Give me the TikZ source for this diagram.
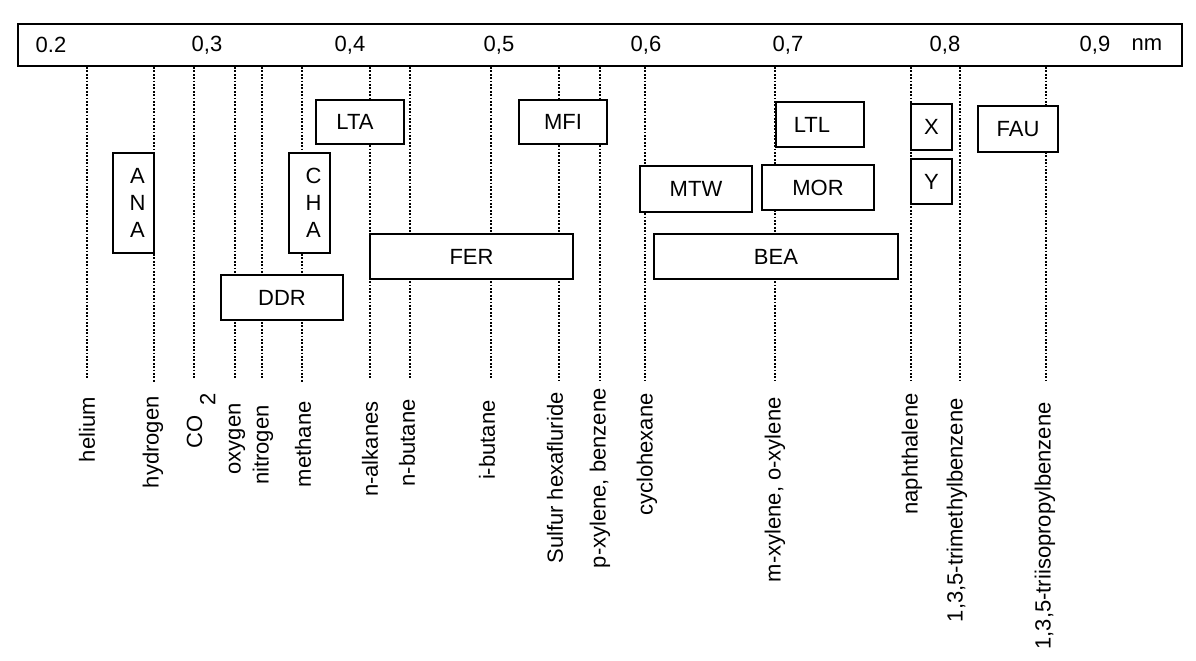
\documentclass[tikz,border=0pt]{standalone}
\usepackage{fontspec}
\setmainfont{Liberation Sans}
\begin{document}
\begin{tikzpicture}[x=0.5pt,y=-0.5pt,
  every node/.style={font=\fontsize{11pt}{13.5pt}\selectfont, inner sep=0pt},
  zbox/.style={draw, fill=white, line width=1pt, align=center},
  guide/.style={line width=1.1pt, dash pattern=on 0.9pt off 0.8pt},
  molname/.style={rotate=90, anchor=east},
  tick/.style={anchor=center}]
\useasboundingbox (0,0) rectangle (1196,660);
% scale bar
\node[draw, line width=1pt, minimum width=582pt, minimum height=21pt] (bar) at (600,45) {};
\node[tick] (t2) at (51,45) {0.2};
\node[tick] (t3) at (207,45) {0,3};
\node[tick] (t4) at (350,45) {0,4};
\node[tick] (t5) at (499,45) {0,5};
\node[tick] (t6) at (646,45) {0,6};
\node[tick] (t7) at (788,45) {0,7};
\node[tick] (t8) at (945,45) {0,8};
\node[tick] (t9) at (1095,45) {0,9};
\node[tick] (tnm) at (1147,45) {nm};
% guide lines
\foreach \x/\e in {87/378,154/383,194/378,235/378,262/378,302/382,370/378,410/378,491/378,559/380,600/380,645/380,775/380,911/380,960/380,1046/380}
  \draw[guide] (\x,67) -- (\x,\e);
% zeolite boxes
\node[zbox, minimum width=20.5pt, minimum height=50pt] (ana) at (133.5,203) {\hspace*{4pt}A\\\hspace*{4pt}N\\\hspace*{4pt}A};
\node[zbox, minimum width=20.5pt, minimum height=50pt] (cha) at (309.5,203) {\hspace*{4pt}C\\\hspace*{4pt}H\\\hspace*{4pt}A};
\node[zbox, minimum width=61pt, minimum height=22.5pt] (ddr) at (282,297.5) {DDR};
\node[zbox, minimum width=44pt, minimum height=22pt] (lta) at (360,122) {LTA\hspace*{5pt}};
\node[zbox, minimum width=44pt, minimum height=22pt] (mfi) at (563,122) {MFI};
\node[zbox, minimum width=101.5pt, minimum height=22.5pt] (fer) at (471.5,256.5) {FER};
\node[zbox, minimum width=56pt, minimum height=23pt] (mtw) at (696,189) {MTW};
\node[zbox, minimum width=56pt, minimum height=22.5pt] (mor) at (818,187.5) {MOR};
\node[zbox, minimum width=122pt, minimum height=22.5pt] (bea) at (776,256.5) {BEA};
\node[zbox, minimum width=44pt, minimum height=22.5pt] (ltl) at (820,124.5) {LTL\hspace*{8pt}};
\node[zbox, minimum width=20.5pt, minimum height=23pt] (zx) at (931.5,127) {X};
\node[zbox, minimum width=20.5pt, minimum height=22.5pt] (zy) at (931.5,181.5) {Y};
\node[zbox, minimum width=40pt, minimum height=23pt] (fau) at (1018,129) {FAU};
% molecule labels
\node[molname] (he) at (87,397) {helium};
\node[molname] (h2) at (153,396) {hydrogen};
\node[molname] (co2) at (201,393) {CO\hspace{0.45em}\raisebox{-0.6em}{2}};
\node[molname] (o2) at (237,403) {oxygen};
\node[molname] (n2) at (263,405) {nitrogen};
\node[molname] (ch4) at (303,401) {methane};
\node[molname] (nalk) at (370,401) {n-alkanes};
\node[molname] (nbut) at (407,399) {n-butane};
\node[molname] (ibut) at (487,400) {i-butane};
\node[molname] (sf6) at (555,392) {Sulfur hexafluride};
\node[molname] (pxy) at (600,388) {p-xylene, benzene};
\node[molname] (chx) at (647,393) {cyclohexane};
\node[molname] (mxy) at (775,397) {m-xylene, o-xylene};
\node[molname] (nap) at (912,393) {naphthalene};
\node[molname] (tmb) at (957,398) {1,3,5-trimethylbenzene};
\node[molname] (tipb) at (1045,402) {1,3,5-triisopropylbenzene};
\end{tikzpicture}
\end{document}
